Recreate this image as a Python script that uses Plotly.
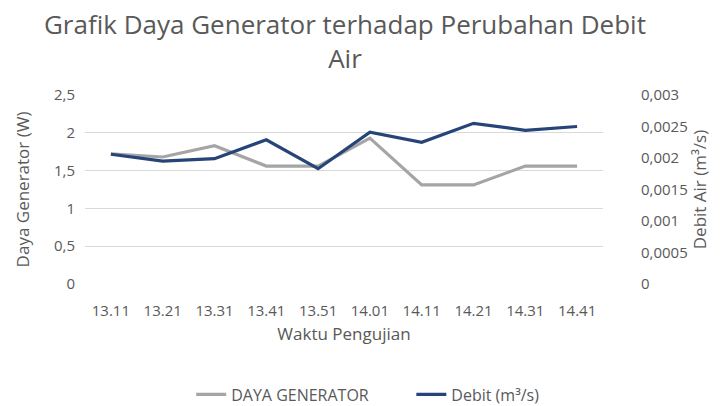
import plotly.graph_objects as go

waktu = ["13.11", "13.21", "13.31", "13.41", "13.51", "14.01", "14.11", "14.21", "14.31", "14.41"]
daya = [1.72, 1.68, 1.83, 1.56, 1.56, 1.93, 1.31, 1.31, 1.56, 1.56]
debit = [0.00206, 0.00195, 0.00199, 0.00229, 0.00183, 0.00241, 0.00225, 0.00255, 0.00244, 0.00250]

left_ticks = [0, 0.5, 1, 1.5, 2, 2.5]
left_text = ["0", "0,5", "1", "1,5", "2", "2,5"]
right_ticks = [0, 0.0005, 0.001, 0.0015, 0.002, 0.0025, 0.003]
right_text = ["0", "0,0005", "0,001", "0,0015", "0,002", "0,0025", "0,003"]

txt = "#595959"
font = "Open Sans, Noto Sans, sans-serif"

fig = go.Figure()
fig.add_trace(go.Scatter(x=waktu, y=daya, name="DAYA GENERATOR", mode="lines", legend="legend",
                         line=dict(color="#A5A5A5", width=3.2)))
fig.add_trace(go.Scatter(x=waktu, y=debit, name="Debit (m³/s)", mode="lines", yaxis="y2", legend="legend2",
                         line=dict(color="#264478", width=3.2)))

fig.update_layout(
    width=720, height=406,
    paper_bgcolor="white", plot_bgcolor="white",
    font=dict(family=font, color=txt, size=15),
    margin=dict(l=77, r=125, t=87, b=130, autoexpand=False),
    title=dict(text="Grafik Daya Generator terhadap Perubahan Debit<br>Air", x=0.468, xanchor="center",
               y=0.935, yanchor="top", font=dict(size=26, color=txt, family=font)),
    xaxis=dict(type="category", range=[-0.5, 9.5], showgrid=False, showline=False,
               ticks="outside", ticklen=13, tickcolor="rgba(0,0,0,0)",
               title=dict(text="Waktu Pengujian", font=dict(size=17, color=txt), standoff=9),
               tickfont=dict(size=15, color=txt)),
    yaxis=dict(range=[0, 2.5], tickvals=left_ticks, ticktext=left_text, showgrid=True,
               gridcolor="#D9D9D9", gridwidth=1, zeroline=False, showline=False,
               ticks="outside", ticklen=6, tickcolor="rgba(0,0,0,0)",
               title=dict(text="Daya Generator (W)", font=dict(size=17, color=txt), standoff=20),
               tickfont=dict(size=15, color=txt)),
    yaxis2=dict(range=[0, 0.003], tickvals=right_ticks, ticktext=right_text, overlaying="y",
                side="right", showgrid=False, zeroline=False, showline=False,
                ticks="outside", ticklen=34, tickcolor="rgba(0,0,0,0)",
                title=dict(text="Debit Air (m³/s)", font=dict(size=17, color=txt), standoff=6),
                tickfont=dict(size=15, color=txt)),
    legend=dict(orientation="h", x=0.205, xanchor="left", y=-0.585, yanchor="middle",
                font=dict(size=16, color=txt)),
    legend2=dict(orientation="h", x=0.63, xanchor="left", y=-0.585, yanchor="middle",
                 font=dict(size=16, color=txt)),
    showlegend=True,
)

fig.write_html("out.html")
